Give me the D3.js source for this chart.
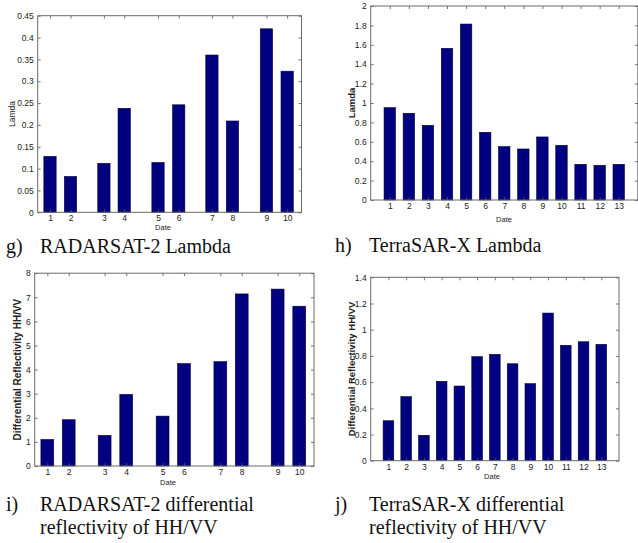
<!DOCTYPE html>
<meta charset="utf-8">
<script src="https://cdn.jsdelivr.net/npm/d3@7"></script>
<style>
    body { margin: 0; background: #fff; }
    .axis path { display: none; }
    .axis line { stroke: #555; stroke-width: 0.8; }
    .axis text { font-family: "Liberation Sans", Arial, sans-serif; font-size: 8.5px; fill: #222; }
    .frame { fill: none; stroke: #6a6a6a; stroke-width: 1; }
    .bar { fill: #000080; stroke: #000033; stroke-width: 0.6; }
    .lab { font-family: "Liberation Sans", Arial, sans-serif; fill: #222; text-anchor: middle; }
    .cap { font-family: "Liberation Serif", "Times New Roman", serif; font-size: 20px; fill: #111; }
</style>
<body>
<div id="chart"></div>
<script>

// g) RADARSAT-2 Lambda
var rsDates = [1, 2, 3.63, 4.62, 6.27, 7.28, 8.9, 9.9, 11.56, 12.57]
var rsLabels = ["1","2","3","4","5","6","7","8","9","10"]
var rsLambda = [0.128, 0.082, 0.112, 0.238, 0.114, 0.246, 0.360, 0.209, 0.420, 0.323]
var rsLambdaTicks = [0, 0.05, 0.1, 0.15, 0.2, 0.25, 0.3, 0.35, 0.4, 0.45]

// h) TerraSAR-X Lambda
var tsDates = [1,2,3,4,5,6,7,8,9,10,11,12,13]
var tsLabels = ["1","2","3","4","5","6","7","8","9","10","11","12","13"]
var tsLambda = [0.952, 0.894, 0.770, 1.564, 1.814, 0.698, 0.550, 0.526, 0.650, 0.564, 0.368, 0.358, 0.368]
var tsLambdaTicks = [0, 0.2, 0.4, 0.6, 0.8, 1, 1.2, 1.4, 1.6, 1.8, 2]

// i) RADARSAT-2 differential reflectivity
var rsDates2 = [1, 2, 3.68, 4.69, 6.39, 7.39, 9.09, 10.09, 11.77, 12.78]
var rsZdr = [1.10, 1.92, 1.27, 2.97, 2.07, 4.25, 4.33, 7.14, 7.34, 6.63]
var rsZdrTicks = [0, 1, 2, 3, 4, 5, 6, 7, 8]

// j) TerraSAR-X differential reflectivity
var tsZdr = [0.305, 0.489, 0.194, 0.606, 0.570, 0.794, 0.812, 0.740, 0.588, 1.127, 0.881, 0.908, 0.888]
var tsZdrTicks = [0, 0.2, 0.4, 0.6, 0.8, 1, 1.2, 1.4]

var W = 638, H = 543
var svg = d3.select("#chart").append("svg").attr("width", W).attr("height", H)
svg.append("rect").attr("width", W).attr("height", H).attr("fill", "#fff")

var panels = [
    {x0: 37.7, x1: 301.5, y0: 15.7, y1: 212.3, xdom: [0.4, 13.27], dates: rsDates, labels: rsLabels, vals: rsLambda, yticks: rsLambdaTicks,
     ylab: "Lamda", ybold: false, ysize: 8.5, ylabX: 15, xlabX: 163, xlabY: 230},
    {x0: 370.7, x1: 637.8, y0: 6, y1: 200, xdom: [0, 14], dates: tsDates, labels: tsLabels, vals: tsLambda, yticks: tsLambdaTicks,
     ylab: "Lamda", ybold: true, ysize: 9.5, ylabX: 355, xlabX: 504, xlabY: 222},
    {x0: 34.7, x1: 314, y0: 273.2, y1: 466, xdom: [0.41, 13.47], dates: rsDates2, labels: rsLabels, vals: rsZdr, yticks: rsZdrTicks,
     ylab: "Differential Reflectivity HH/VV", ybold: true, ysize: 10, ylabX: 21, xlabX: 168, xlabY: 485},
    {x0: 370.7, x1: 619, y0: 277.3, y1: 460.7, xdom: [0, 14], dates: tsDates, labels: tsLabels, vals: tsZdr, yticks: tsZdrTicks,
     ylab: "Differential Reflectivity HH/VV", ybold: true, ysize: 9.5, ylabX: 355, xlabX: 492, xlabY: 479}
]

panels.forEach((p) => {
    var w = p.x1 - p.x0, h = p.y1 - p.y0
    var g = svg.append("g").attr("transform", "translate(" + p.x0 + "," + p.y0 + ")")
    var x = d3.scaleLinear().domain(p.xdom).range([0, w])
    var y = d3.scaleLinear().domain([0, p.yticks[p.yticks.length - 1]]).range([h, 0])
    var bw = x(p.xdom[0] + 0.6) - x(p.xdom[0])

    g.selectAll(".bar").data(p.vals).enter().append("rect").attr("class", "bar")
        .attr("x", (d, i) => x(p.dates[i]) - bw / 2).attr("width", bw)
        .attr("y", (d) => y(d)).attr("height", (d) => h - y(d))

    var xb = d3.axisBottom(x).tickValues(p.dates).tickFormat((d, i) => p.labels[i]).tickSize(-3).tickPadding(3)
    var xt = d3.axisTop(x).tickValues(p.dates).tickFormat("").tickSize(-3)
    var yl = d3.axisLeft(y).tickValues(p.yticks).tickFormat((d) => String(d)).tickSize(-3).tickPadding(4)
    var yr = d3.axisRight(y).tickValues(p.yticks).tickFormat("").tickSize(-3)
    g.append("g").attr("class", "axis").attr("transform", "translate(0," + h + ")").call(xb)
    g.append("g").attr("class", "axis").call(xt)
    g.append("g").attr("class", "axis").call(yl)
    g.append("g").attr("class", "axis").attr("transform", "translate(" + w + ",0)").call(yr)
    g.append("rect").attr("class", "frame").attr("width", w).attr("height", h)

    svg.append("text").attr("class", "lab").attr("x", p.xlabX).attr("y", p.xlabY)
        .style("font-size", "7.5px").text("Date")
    svg.append("text").attr("class", "lab")
        .attr("transform", "translate(" + p.ylabX + "," + (p.y0 + h / 2) + ") rotate(-90)")
        .style("font-size", p.ysize + "px").style("font-weight", p.ybold ? "bold" : "normal").text(p.ylab)
})

// captions under each panel
var caps = [
    {x: 6, y: 253, tag: "g)", lines: ["RADARSAT-2 Lambda"]},
    {x: 335, y: 252, tag: "h)", lines: ["TerraSAR-X Lambda"]},
    {x: 6, y: 511, tag: "i)", lines: ["RADARSAT-2 differential", "reflectivity of HH/VV"]},
    {x: 335, y: 511, tag: "j)", lines: ["TerraSAR-X differential", "reflectivity of HH/VV"]}
]
caps.forEach((c) => {
    svg.append("text").attr("class", "cap").attr("x", c.x).attr("y", c.y).text(c.tag)
    c.lines.forEach((t, i) => {
        svg.append("text").attr("class", "cap").attr("x", c.x + 34).attr("y", c.y + i * 23).text(t)
    })
})

</script>
</body>
</html>
